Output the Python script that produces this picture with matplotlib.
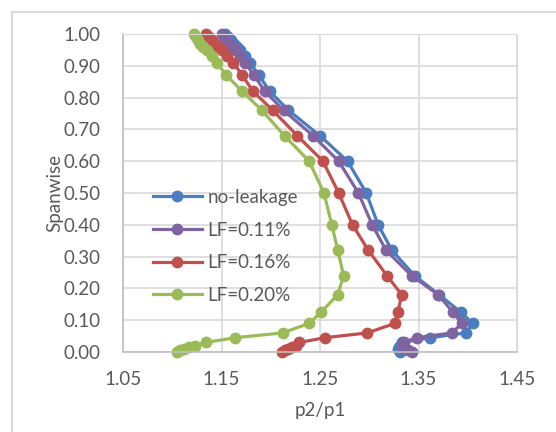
import matplotlib
matplotlib.use("Agg")
import matplotlib.pyplot as plt
from matplotlib.lines import Line2D

# ---------------- DATA ----------------
span = [0.0, 0.005, 0.01, 0.015, 0.02, 0.03, 0.045, 0.06, 0.09, 0.125, 0.18, 0.24,
        0.32, 0.40, 0.50, 0.60, 0.68, 0.76, 0.82, 0.87, 0.91, 0.93, 0.95, 0.96,
        0.97, 0.98, 0.99, 1.00]

no_leakage = [1.331, 1.330, 1.329, 1.330, 1.331, 1.333, 1.362, 1.398, 1.405, 1.393,
              1.371, 1.346, 1.323, 1.309, 1.297, 1.278, 1.250, 1.218, 1.199, 1.188,
              1.179, 1.174, 1.169, 1.166, 1.163, 1.160, 1.157, 1.154]
lf_011 = [1.343, 1.339, 1.336, 1.334, 1.333, 1.335, 1.348, 1.384, 1.394, 1.385,
          1.370, 1.343, 1.317, 1.303, 1.289, 1.269, 1.243, 1.213, 1.194, 1.183,
          1.174, 1.169, 1.165, 1.162, 1.159, 1.156, 1.153, 1.150]
lf_016 = [1.211, 1.214, 1.218, 1.222, 1.226, 1.229, 1.255, 1.298, 1.326, 1.329,
          1.333, 1.318, 1.299, 1.283, 1.269, 1.253, 1.227, 1.202, 1.182, 1.171,
          1.162, 1.156, 1.150, 1.146, 1.143, 1.140, 1.137, 1.134]
lf_020 = [1.105, 1.108, 1.112, 1.117, 1.123, 1.134, 1.164, 1.212, 1.239, 1.251,
          1.268, 1.274, 1.268, 1.262, 1.254, 1.239, 1.214, 1.191, 1.171, 1.155,
          1.145, 1.140, 1.135, 1.131, 1.128, 1.126, 1.124, 1.122]

labels = ["no-leakage", "LF=0.11%", "LF=0.16%", "LF=0.20%"]
colors = ["#4A7EC0", "#8064A2", "#C0504D", "#9BBB59"]

x_ticks = [1.05, 1.15, 1.25, 1.35, 1.45]
y_ticks = [0.0, 0.1, 0.2, 0.3, 0.4, 0.5, 0.6, 0.7, 0.8, 0.9, 1.0]

# ---------------- PLOT ----------------
plt.rcParams["font.family"] = ["Lato", "DejaVu Sans"]
text_color = "#595959"
grid_color = "#D9D9D9"
fs = 13.5

fig = plt.figure(figsize=(5.56, 4.32), dpi=100)
ax = fig.add_axes([123 / 556, 1 - 352 / 432, (517 - 123) / 556, (352 - 34) / 432])

for xs, lab, col in zip([no_leakage, lf_011, lf_016, lf_020], labels, colors):
    ax.plot(xs, span, color=col, lw=2.3, marker="o", ms=7.5, label=lab,
            clip_on=False)

ax.set_xlim(1.05, 1.45)
ax.set_ylim(0, 1.0)
ax.set_xticks(x_ticks)
ax.set_xticklabels([f"{v:.2f}" for v in x_ticks])
ax.set_yticks(y_ticks)
ax.set_yticklabels([f"{v:.2f}" for v in y_ticks])
ax.tick_params(length=0, labelsize=fs, colors=text_color)
ax.tick_params(axis="x", pad=14)
ax.tick_params(axis="y", pad=16)
ax.grid(True, color=grid_color, lw=1.2)
ax.set_axisbelow(True)
for s in ["top", "right"]:
    ax.spines[s].set_color(grid_color)
for s in ["left", "bottom"]:
    ax.spines[s].set_color("#BFBFBF")
    ax.spines[s].set_linewidth(1.2)

ax.set_xlabel("p2/p1", fontsize=fs, color=text_color, labelpad=10)
ax.set_ylabel("Spanwise", fontsize=fs, color=text_color, labelpad=0)

leg = ax.legend(loc="upper left", bbox_to_anchor=(153 / 556, 1 - 189 / 432),
                bbox_transform=fig.transFigure, frameon=False, fontsize=fs,
                labelspacing=0.83, handlelength=2.6, handletextpad=0.3,
                borderpad=0, borderaxespad=0)
for t in leg.get_texts():
    t.set_color(text_color)

# chart area border (top and left visible in the reference)
fig.add_artist(Line2D([12 / 556, 12 / 556], [0, 1 - 12 / 432], color=grid_color, lw=1.5))
fig.add_artist(Line2D([12 / 556, 1], [1 - 12 / 432, 1 - 12 / 432], color=grid_color, lw=1.5))

fig.savefig("out.png", dpi=100)
